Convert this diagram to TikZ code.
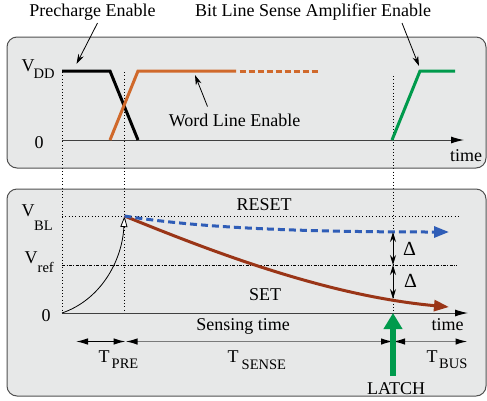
\documentclass[tikz,border=0pt]{standalone}
\usepackage{fontspec}
\setmainfont{Liberation Serif}
\usetikzlibrary{arrows.meta}
\definecolor{panelgray}{HTML}{E7E8E8}
\definecolor{panelborder}{HTML}{505050}
\definecolor{axisgray}{HTML}{404040}
\definecolor{spangray}{HTML}{7A7A7A}
\definecolor{sigorange}{HTML}{D0692B}
\definecolor{siggreen}{HTML}{009A4C}
\definecolor{sigblue}{HTML}{2F5DB7}
\definecolor{sigbrown}{HTML}{9A3517}
\begin{document}
\begin{tikzpicture}[x=1pt,y=-1pt,
  lbl/.style={inner sep=0pt, font=\fontsize{18}{20}\selectfont, anchor=base},
  mainl/.style={inner sep=0pt, font=\fontsize{18}{20}\selectfont, anchor=base west},
  sublbl/.style={inner sep=0pt, font=\fontsize{14.5}{16}\selectfont, anchor=base west},
  panel/.style={rounded corners=10pt, fill=panelgray, draw=panelborder, line width=1pt},
  guide/.style={line width=0.9pt, dash pattern=on 0.9pt off 2.4pt},
  refline/.style={line width=0.8pt, dash pattern=on 3pt off 1.5pt on 0.8pt off 1.5pt},
  sig/.style={line width=3pt},
  axisline/.style={draw=axisgray, line width=1pt, -{Latex[length=13pt,width=7pt,color=black]}},
  pointer/.style={line width=0.8pt, -{Stealth[length=10pt,width=6pt]}},
  gap/.style={line width=0.9pt, {Stealth[length=10pt,width=6pt]}-{Stealth[length=10pt,width=6pt]}},
  spanblack/.style={line width=1.2pt, {Latex[length=12pt,width=6.5pt]}-{Latex[length=12pt,width=6.5pt]}},
  spangrey/.style={line width=1.5pt, draw=spangray, {Latex[length=12pt,width=6.5pt,color=black]}-{Latex[length=12pt,width=6.5pt,color=black]}}
]
\useasboundingbox (0,0) rectangle (487,400);

% panels
\draw[panel] (7,37) rectangle (486,168);
\draw[panel] (7,189) rectangle (486,396);

% ---------- coordinates ----------
\coordinate (t0) at (62,140);
\coordinate (tend) at (464,140);
\coordinate (b0) at (62,313);
\coordinate (bend) at (468,313);
\coordinate (pk) at (124.5,216);
\coordinate (latchtop) at (393,313);
\coordinate (latchbot) at (393,376);

% guide lines
\draw[guide] (62,72) -- (b0);
\draw[guide] (124.5,72) -- (124.5,313);
\draw[guide] (393,76) -- (latchtop);
\draw[guide] (62,216) -- (460,216);
\draw[refline] (62,265) -- (457,265);

% ---------- top panel ----------
\draw[axisline] (t0) -- (tend);
\draw[sig, black] (62,71) -- (110,71) -- (138,140);
\draw[sig, sigorange] (110,140) -- (138,71) -- (236,71);
\draw[sig, sigorange, dash pattern=on 6pt off 3pt] (239.5,71) -- (318,71);
\draw[sig, siggreen] (392,140) -- (420,71) -- (455,71);

\node[mainl] (vdd) at (21.5,71) {V};
\node[sublbl] (vddsub) at (33.5,78.5) {DD};
\node[lbl] (zt) at (39,148) {0};
\node[lbl] (timet) at (466,161.5) {time};

\node[lbl] (pre) at (92.5,16.5) {Precharge Enable};
\node[lbl] (blsa) at (313,16.5) {Bit Line Sense Amplifier Enable};
\node[lbl] (wle) at (234.5,126.5) {Word Line Enable};
\coordinate (preS) at (97.5,23);
\coordinate (preE) at (76.5,64);
\coordinate (blS) at (402,23);
\coordinate (blE) at (419,66);
\coordinate (wlS) at (207.5,106.5);
\coordinate (wlE) at (195,75);
\draw[pointer] (preS) -- (preE);
\draw[pointer] (blS) -- (blE);
\draw[pointer] (wlS) -- (wlE);

% ---------- bottom panel ----------
\draw[axisline] (b0) -- (bend);

\draw[line width=0.8pt, -{Triangle[length=11pt,width=7pt,fill=white]}]
  (b0) .. controls (100,300) and (122,262) .. (pk);
\draw[sig, sigbrown, -{Triangle[length=15pt,width=11pt]}]
  (pk) .. controls (220,255) and (330,296) .. (449,307);
\draw[sig, sigblue, dash pattern=on 7pt off 4pt, -{Triangle[length=15pt,width=11pt,sep=0pt]}]
  (pk) .. controls (200,228) and (300,232) .. (449,232);

\coordinate (gb) at (393,232);
\coordinate (gr) at (393,265);
\coordinate (gs) at (393,299);
\draw[gap] (gb) -- (gr);
\draw[gap] (gr) -- (gs);
\node[lbl, font=\fontsize{20}{22}\selectfont] (d1) at (409.5,255) {Δ};
\node[lbl, font=\fontsize{20}{22}\selectfont] (d2) at (410.5,287.5) {Δ};

\node[mainl] (vbl) at (21.5,216) {V};
\node[sublbl] (vblsub) at (34,230) {BL};
\node[mainl] (vref) at (24.5,263) {V};
\node[sublbl] (vrefsub) at (37.5,272) {ref};
\node[lbl] (zb) at (46,321.5) {0};

\node[lbl] (reset) at (264,210) {RESET};
\node[lbl] (set) at (265,300) {SET};
\node[lbl] (sens) at (243,330.5) {Sensing time};
\node[lbl] (timeb) at (447.5,330.5) {time};

% time spans
\coordinate (s0) at (76,341.5);
\coordinate (s1) at (125.5,341.5);
\coordinate (s2) at (393,341.5);
\coordinate (s3) at (467.5,341.5);
\draw[spanblack] (s0) -- (s1);
\draw[spangrey] (s1) -- (s2);
\draw[spangrey] (s2) -- (s3);

\node[mainl] (tpre) at (98.5,362) {T};
\node[sublbl] (tpresub) at (111.5,368.5) {PRE};
\node[mainl] (tsense) at (227.5,362) {T};
\node[sublbl] (tsensesub) at (241.5,369) {SENSE};
\node[mainl] (tbus) at (426.5,362) {T};
\node[sublbl] (tbussub) at (439,368.5) {BUS};

% latch
\draw[siggreen, line width=6pt, -{Triangle[length=16pt,width=18pt]}] (latchbot) -- (latchtop);
\node[lbl] (latch) at (396,394) {LATCH};
\end{tikzpicture}
\end{document}
